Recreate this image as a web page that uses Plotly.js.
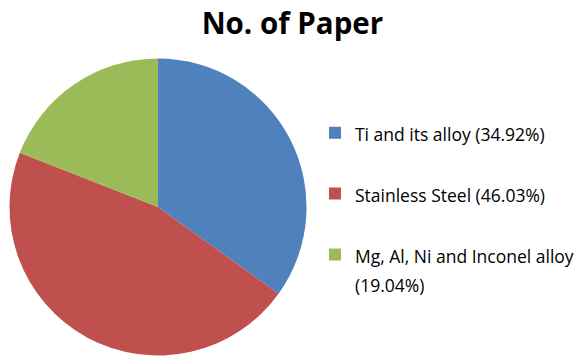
<!DOCTYPE html>
<html>
<head>
<meta charset="utf-8">
<script src="https://cdn.plot.ly/plotly-3.0.1.min.js"></script>
<style>html,body{margin:0;padding:0;background:#fff}#chart{width:579px;height:359px}</style>
</head>
<body>
<div id="chart"></div>
<script>
const categories = ["Ti and its alloy (34.92%)", "Stainless Steel (46.03%)", "Mg, Al, Ni and Inconel alloy<br>(19.04%)"];
const values = [34.92, 46.03, 19.04];
const colors = ["#4F81BD", "#C0504D", "#9BBB59"];
const chartTitle = "No. of Paper";

// legend labels: visible text at 17.5px, padded so entries are spaced like the reference
const legendLabels = categories.map((c, i) => {
  const parts = c.split("<br>").map(p => '<span style="font-size:17.5px">' + p + '</span>');
  let s = parts.join("<br>");
  if (parts.length < 2) s += "<br> ";
  return s;
});

const data = [{
  type: "pie",
  labels: legendLabels,
  values: values,
  sort: false,
  direction: "clockwise",
  rotation: 0,
  textinfo: "none",
  hoverinfo: "none",
  marker: {colors: colors, line: {width: 0}},
  domain: {x: [0.0164, 0.5294], y: [0.0097, 0.837]}
}];

const layout = {
  width: 579, height: 359,
  margin: {l: 0, r: 0, t: 0, b: 0, autoexpand: false},
  paper_bgcolor: "#fff",
  title: {text: "<b>" + chartTitle + "</b>", font: {family: "Open Sans", size: 29.5, color: "#000"}, x: 0.505, xanchor: "center", y: 0.935, yanchor: "middle"},
  showlegend: true,
  legend: {x: 0.544, xanchor: "left", y: 0.689, yanchor: "top", valign: "top",
    font: {family: "Open Sans", size: 22.3, color: "#000"}, bgcolor: "rgba(0,0,0,0)", tracegroupgap: 0}
};

Plotly.newPlot("chart", data, layout, {displayModeBar: false, staticPlot: true});
</script>
</body>
</html>
